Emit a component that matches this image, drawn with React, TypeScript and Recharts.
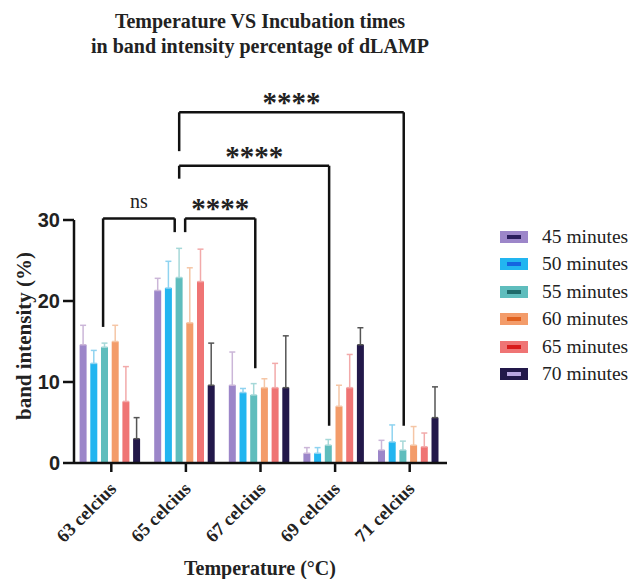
import { BarChart, Bar, XAxis, YAxis, ErrorBar, ReferenceLine } from 'recharts';

const categories = ['63 celcius', '65 celcius', '67 celcius', '69 celcius', '71 celcius'];
const seriesNames = ['45 minutes', '50 minutes', '55 minutes', '60 minutes', '65 minutes', '70 minutes'];
const seriesKeys = ['m45', 'm50', 'm55', 'm60', 'm65', 'm70'];

const mean45 = [14.6, 21.3, 9.6, 1.2, 1.6];
const mean50 = [12.3, 21.6, 8.7, 1.2, 2.6];
const mean55 = [14.3, 22.9, 8.4, 2.2, 1.6];
const mean60 = [15.0, 17.3, 9.3, 7.0, 2.2];
const mean65 = [7.6, 22.4, 9.3, 9.3, 2.0];
const mean70 = [3.0, 9.6, 9.3, 14.6, 5.6];

const err45 = [2.4, 1.5, 4.1, 0.7, 1.2];
const err50 = [1.6, 3.3, 0.5, 0.7, 2.1];
const err55 = [0.5, 3.6, 1.4, 0.7, 1.1];
const err60 = [2.0, 6.8, 1.1, 2.6, 2.3];
const err65 = [4.3, 4.0, 3.0, 4.1, 1.7];
const err70 = [2.6, 5.2, 6.4, 2.1, 3.8];

const yTicks = [0, 10, 20, 30];

// significance brackets (x in category units, y in %)
const bracketLabels = ['ns', '****', '****', '****'];
const bracketLeftX = [0.39, 1.49, 1.41, 1.41];
const bracketRightX = [1.35, 2.43, 3.42, 4.42];
const bracketTop = [30.2, 30.2, 36.7, 43.3];
const bracketLeftEnd = [16.8, 28.5, 35.1, 38.5];
const bracketRightEnd = [28.5, 11.7, 4.6, 4.6];

const means = [mean45, mean50, mean55, mean60, mean65, mean70];
const errs = [err45, err50, err55, err60, err65, err70];

const colors = ['#9c86c9', '#22b5f0', '#5fbdbd', '#f39c6a', '#ef7474', '#22184a'];
const errColors = ['#cbb6d8', '#8fd3f0', '#a6d8d8', '#f5c6a6', '#f2aaaa', '#555555'];
const swatchInner = ['#2a1d5c', '#1565e0', '#1f6b6b', '#e0601e', '#d81b1b', '#b9a6e0'];

const data = categories.map((name, i) => {
  const row: Record<string, unknown> = { name, pos: i + 0.5 };
  seriesKeys.forEach((k, s) => {
    row[k] = means[s][i];
    row['e' + k] = [0, errs[s][i]];
  });
  return row;
});

const serif = '"Liberation Serif", "Times New Roman", serif';
const sans = '"Liberation Sans", Arial, sans-serif';

const XTick = ({ x, y, payload }: any) => (
  <g transform={`translate(${x},${y})`}>
    <text
      x={6}
      y={16}
      textAnchor="end"
      transform="rotate(-45 6 16)"
      fontFamily={serif}
      fontWeight="bold"
      fontSize={18.5}
      fill="#222"
    >
      {payload.value}
    </text>
  </g>
);

export default function App() {
  return (
    <div style={{ position: 'absolute', left: 0, top: 0, width: 633, height: 579, background: '#fff' }}>
      <BarChart
        width={633}
        height={579}
        data={data}
        margin={{ top: 220, right: 186, bottom: 0, left: 24 }}
        barGap={3.7}
        barCategoryGap={5.6}
      >
        <XAxis
          xAxisId="cat"
          dataKey="name"
          height={116}
          tick={<XTick />}
          tickSize={9}
          interval={0}
          axisLine={{ stroke: '#111', strokeWidth: 2.5 }}
          tickLine={{ stroke: '#111', strokeWidth: 2.5 }}
        />
        <XAxis xAxisId="num" type="number" dataKey="pos" domain={[0, 5]} hide />
        <YAxis
          domain={[0, 30]}
          ticks={yTicks}
          width={50}
          tickSize={11}
          tickMargin={3}
          axisLine={{ stroke: '#111', strokeWidth: 2.5 }}
          tickLine={{ stroke: '#111', strokeWidth: 2.5 }}
          tick={{ fontFamily: sans, fontWeight: 'bold', fontSize: 20, fill: '#222' }}
        />
        {seriesKeys.map((k, s) => (
          <Bar key={k} xAxisId="cat" dataKey={k} name={seriesNames[s]} fill={colors[s]} isAnimationActive={false}>
            <ErrorBar dataKey={'e' + k} width={3} stroke={errColors[s]} strokeWidth={1.5} direction="y" />
          </Bar>
        ))}
        {bracketLabels.map((lab, b) => (
          <ReferenceLine
            key={'l' + b}
            xAxisId="num"
            ifOverflow="visible"
            stroke="#111"
            strokeWidth={2.5}
            segment={[
              { x: bracketLeftX[b], y: bracketLeftEnd[b] },
              { x: bracketLeftX[b], y: bracketTop[b] },
            ]}
          />
        ))}
        {bracketLabels.map((lab, b) => (
          <ReferenceLine
            key={'r' + b}
            xAxisId="num"
            ifOverflow="visible"
            stroke="#111"
            strokeWidth={2.5}
            segment={[
              { x: bracketRightX[b], y: bracketRightEnd[b] },
              { x: bracketRightX[b], y: bracketTop[b] },
            ]}
          />
        ))}
        {bracketLabels.map((lab, b) => (
          <ReferenceLine
            key={'t' + b}
            xAxisId="num"
            ifOverflow="visible"
            stroke="#111"
            strokeWidth={2.5}
            segment={[
              { x: bracketLeftX[b], y: bracketTop[b] },
              { x: bracketRightX[b], y: bracketTop[b] },
            ]}
            label={{
              value: lab,
              position: 'top',
              offset: lab === 'ns' ? 10 : 0,
              fill: '#222',
              fontFamily: serif,
              fontWeight: lab === 'ns' ? 'normal' : 'bold',
              fontSize: lab === 'ns' ? 20 : 29,
            }}
          />
        ))}
      </BarChart>

      <div
        style={{
          position: 'absolute',
          left: 40,
          width: 440,
          top: 9,
          textAlign: 'center',
          fontFamily: serif,
          fontWeight: 'bold',
          fontSize: 20,
          lineHeight: '25px',
          color: '#222',
        }}
      >
        Temperature VS Incubation times
        <br />
        in band intensity percentage of dLAMP
      </div>

      <div
        style={{
          position: 'absolute',
          left: 24,
          top: 336,
          transform: 'translate(-50%, -50%) rotate(-90deg)',
          whiteSpace: 'nowrap',
          fontFamily: serif,
          fontWeight: 'bold',
          fontSize: 21,
          lineHeight: '21px',
          color: '#222',
        }}
      >
        band intensity (%)
      </div>

      <div
        style={{
          position: 'absolute',
          left: 260,
          top: 568,
          transform: 'translate(-50%, -50%)',
          whiteSpace: 'nowrap',
          fontFamily: serif,
          fontWeight: 'bold',
          fontSize: 20,
          color: '#222',
        }}
      >
        Temperature (°C)
      </div>

      <div style={{ position: 'absolute', left: 500, top: 223 }}>
        {seriesNames.map((n, s) => (
          <div key={n} style={{ display: 'flex', alignItems: 'center', height: 27.5 }}>
            <svg width={28} height={12} style={{ marginRight: 14 }}>
              <rect x={0} y={0} width={28} height={12} fill={colors[s]} />
              <rect x={7} y={4} width={14} height={4} fill={swatchInner[s]} />
            </svg>
            <span style={{ fontFamily: serif, fontSize: 19.5, color: '#222' }}>{n}</span>
          </div>
        ))}
      </div>
    </div>
  );
}
